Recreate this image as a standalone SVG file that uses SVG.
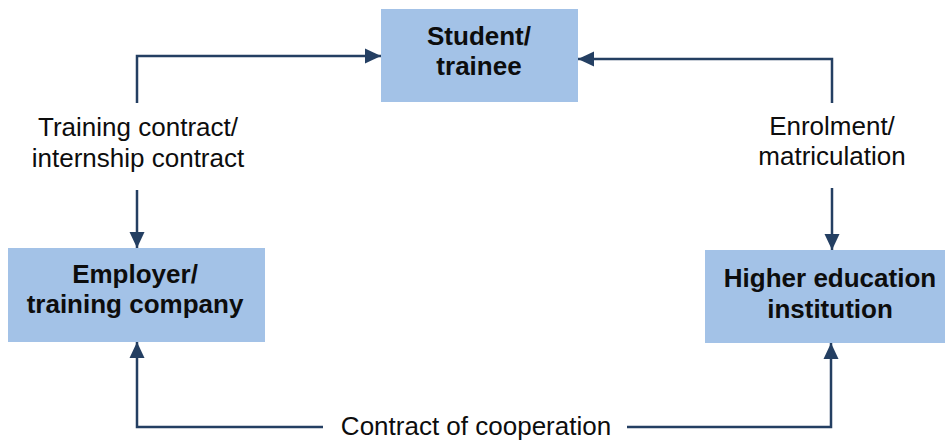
<svg xmlns="http://www.w3.org/2000/svg" width="946" height="440" viewBox="0 0 946 440">
<style>
.box{fill:#a3c2e7}
.bt{font-family:"Liberation Sans",Arial,sans-serif;font-size:26px;font-weight:bold;fill:#0d0d0d;text-anchor:middle}
.lt{font-family:"Liberation Sans",Arial,sans-serif;font-size:26px;fill:#0d0d0d;text-anchor:middle}
.ln{fill:none;stroke:#243f62;stroke-width:2.5;marker-end:url(#ah)}
.pl{fill:none;stroke:#243f62;stroke-width:2.5}
</style>
<defs>
<marker id="ah" markerUnits="userSpaceOnUse" markerWidth="16" markerHeight="16" viewBox="0 0 16 16" refX="16" refY="8" orient="auto">
<path d="M0,0.5 L16,8 L0,15.5 Z" fill="#243f62"/>
</marker>
</defs>
<rect width="946" height="440" fill="#fff"/>
<g id="connectors">
<path class="ln" d="M137,103 V56 H381"/>
<path class="ln" d="M137,190 V248"/>
<path class="ln" d="M832,103 V59 H578"/>
<path class="ln" d="M832,188 V250"/>
<path class="ln" d="M323,427 H137 V342"/>
<path class="ln" d="M627,427 H831 V343"/>
<text class="lt" x="138" y="136">Training contract/</text>
<text class="lt" x="138" y="167">internship contract</text>
<text class="lt" x="832" y="135">Enrolment/</text>
<text class="lt" x="832" y="165">matriculation</text>
<text class="lt" x="476" y="435">Contract of cooperation</text>
</g>
<g id="student">
<rect class="box" x="381" y="9" width="197" height="93"/>
<text class="bt" x="479" y="45">Student/</text>
<text class="bt" x="479" y="75">trainee</text>
</g>
<g id="employer">
<rect class="box" x="8" y="248" width="257" height="94"/>
<text class="bt" x="135" y="283">Employer/</text>
<text class="bt" x="135" y="313">training company</text>
</g>
<g id="hei">
<rect class="box" x="705" y="250" width="240" height="93"/>
<text class="bt" x="830" y="287">Higher education</text>
<text class="bt" x="830" y="318">institution</text>
</g>
</svg>
